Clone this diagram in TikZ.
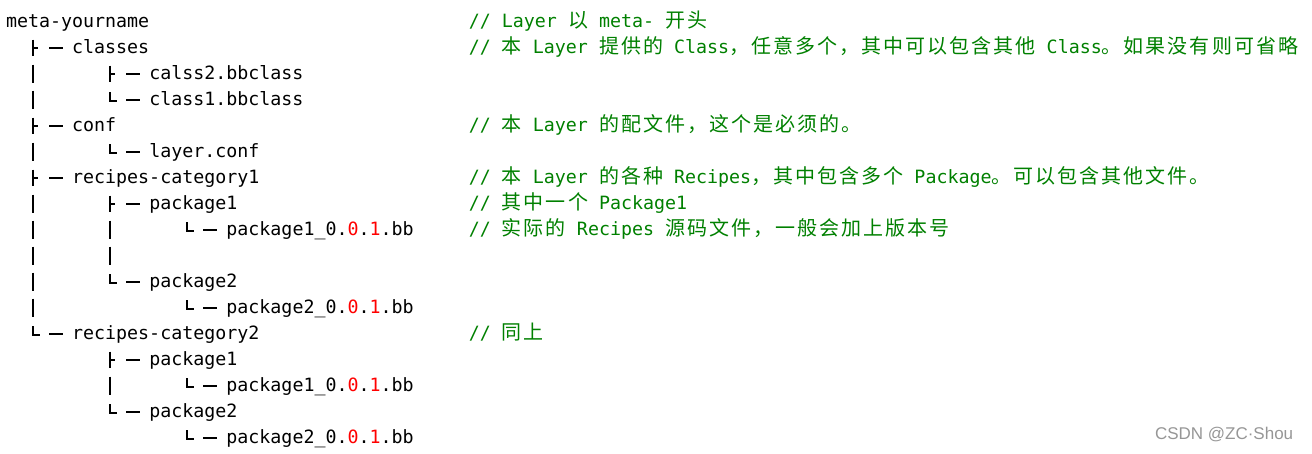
\documentclass[tikz,border=0pt]{standalone}
\usepackage{fontspec}
\setmonofont{DejaVu Sans Mono}
\newfontfamily\cjkfont[LetterSpace=10.2]{Noto Sans CJK SC}
\newfontfamily\markfont{Liberation Sans}
\usetikzlibrary{calc}
\definecolor{cmtgreen}{RGB}{0,128,0}
\definecolor{numred}{RGB}{255,0,0}
\definecolor{markgray}{RGB}{150,150,150}
\newcommand{\zh}[1]{{\cjkfont\fontsize{20pt}{20pt}\selectfont #1}}
\newcommand{\bbver}[1]{package#1\_0.\textcolor{numred}{0}.\textcolor{numred}{1}.bb}
% tree marks: depth, row
\newcommand{\treebar}[2]{\draw ($(r#2)+({32.55+77.14*#1},-15)$) -- ++(0,18);}
\newcommand{\treetee}[2]{
	\draw ($(r#2)+({32.55+77.14*#1},-14)$) -- ++(0,16);
	\draw ($(r#2)+({32.55+77.14*#1},-5.6)$) -- ++(5,0);
	\draw ($(r#2)+({49.08+77.14*#1},-5.6)$) -- ++(14,0);}
\newcommand{\treeell}[2]{
	\draw ($(r#2)+({32.55+77.14*#1},-13.5)$) |- ++(7,8.5);
	\draw ($(r#2)+({49.08+77.14*#1},-5.6)$) -- ++(14,0);}

\begin{document}
\begin{tikzpicture}[x=1pt,y=-1pt,line width=2pt,
	every node/.style={inner sep=0pt,anchor=base west,font=\ttfamily\fontsize{18.3pt}{22pt}\selectfont},
	cmt/.style={text=cmtgreen}]
\useasboundingbox (0,0) rectangle (1312,453);
\foreach \i in {0,...,16}{
	\coordinate(r\i) at (0,{27.5+26*\i});
}

\node (root) at ($(r0)+(5,0)$) {meta-yourname};
\node (classes) at ($(r1)+(71.12,0)$) {classes};
\node (calss2) at ($(r2)+(148.26,0)$) {calss2.bbclass};
\node (class1) at ($(r3)+(148.26,0)$) {class1.bbclass};
\node (conf) at ($(r4)+(71.12,0)$) {conf};
\node (layerconf) at ($(r5)+(148.26,0)$) {layer.conf};
\node (cat1) at ($(r6)+(71.12,0)$) {recipes-category1};
\node (cat1pkg1) at ($(r7)+(148.26,0)$) {package1};
\node (cat1bb1) at ($(r8)+(225.4,0)$) {\bbver{1}};
\node (cat1pkg2) at ($(r10)+(148.26,0)$) {package2};
\node (cat1bb2) at ($(r11)+(225.4,0)$) {\bbver{2}};
\node (cat2) at ($(r12)+(71.12,0)$) {recipes-category2};
\node (cat2pkg1) at ($(r13)+(148.26,0)$) {package1};
\node (cat2bb1) at ($(r14)+(225.4,0)$) {\bbver{1}};
\node (cat2pkg2) at ($(r15)+(148.26,0)$) {package2};
\node (cat2bb2) at ($(r16)+(225.4,0)$) {\bbver{2}};

\treetee{0}{1}
\treebar{0}{2} \treetee{1}{2}
\treebar{0}{3} \treeell{1}{3}
\treetee{0}{4}
\treebar{0}{5} \treeell{1}{5}
\treetee{0}{6}
\treebar{0}{7} \treetee{1}{7}
\treebar{0}{8} \treebar{1}{8} \treeell{2}{8}
\treebar{0}{9} \treebar{1}{9}
\treebar{0}{10} \treeell{1}{10}
\treebar{0}{11} \treeell{2}{11}
\treeell{0}{12}
\treetee{1}{13}
\treebar{1}{14} \treeell{2}{14}
\treeell{1}{15}
\treeell{2}{16}

\node[cmt] (cmt0) at ($(r0)+(467.84,0)$) {// Layer \zh{以} meta- \zh{开头}};
\node[cmt] (cmt1) at ($(r1)+(467.84,0)$) {// \zh{本} Layer \zh{提供的} Class\zh{，任意多个，其中可以包含其他} Class\zh{。如果没有则可省略}};
\node[cmt] (cmt4) at ($(r4)+(467.84,0)$) {// \zh{本} Layer \zh{的配文件，这个是必须的。}};
\node[cmt] (cmt6) at ($(r6)+(467.84,0)$) {// \zh{本} Layer \zh{的各种} Recipes\zh{，其中包含多个} Package\zh{。可以包含其他文件。}};
\node[cmt] (cmt7) at ($(r7)+(467.84,0)$) {// \zh{其中一个} Package1};
\node[cmt] (cmt8) at ($(r8)+(467.84,0)$) {// \zh{实际的} Recipes \zh{源码文件，一般会加上版本号}};
\node[cmt] (cmt12) at ($(r12)+(467.84,0)$) {// \zh{同上}};

\node[font=\markfont\fontsize{17pt}{19pt}\selectfont,text=markgray] (mark) at (1154,439.5) {CSDN @ZC·Shou};
\end{tikzpicture}
\end{document}
